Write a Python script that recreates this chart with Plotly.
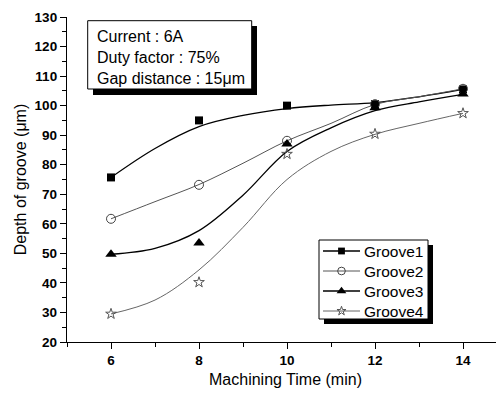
import plotly.graph_objects as go

# measured points
time_min = [6, 8, 10, 12, 14]
groove1 = [75.7, 95.0, 100.0, 100.5, 105.5]
groove2 = [61.7, 73.2, 88.1, 100.5, 105.7]
groove3 = [49.7, 53.5, 87.0, 99.3, 103.9]
groove4 = [29.5, 40.2, 83.6, 90.4, 97.4]

# fitted curves
curve_x = [6, 7, 8, 9, 10, 11, 12, 13, 14]
fit1 = [75.7, 85.5, 92.9, 96.7, 99.0, 100.2, 101.0, 103.0, 105.5]
fit2 = [61.7, 67.5, 73.3, 80.5, 88.1, 94.0, 100.4, 103.0, 105.7]
fit3 = [49.7, 51.7, 57.7, 69.7, 84.5, 92.5, 98.3, 101.3, 103.8]
fit4 = [29.5, 34.2, 44.4, 58.8, 75.0, 84.5, 90.3, 94.0, 97.4]

names = ["Groove1", "Groove2", "Groove3", "Groove4"]
info_lines = ["Current : 6A", "Duty factor : 75%", "Gap distance : 15\u03bcm"]

# page has an 8px body margin: design in page pixels, figure is shifted by 8
OFF = 8
W, H = 504 - OFF, 393 - OFF
PL, PR, PT, PB = 67, 504, 17, 342          # plot area in page pixels
ML, MR, MT, MB = PL - OFF, 0, PT - OFF, H - (PB - OFF)


def style(i, scale=1.0):
    base = [
        (dict(color="black", width=1.3),
         dict(symbol="square", size=8, color="black", line=dict(color="black", width=0))),
        (dict(color="#555555", width=1),
         dict(symbol="circle-open", size=9, color="#444444", line=dict(width=1))),
        (dict(color="black", width=1.3),
         dict(symbol="triangle-up", size=10, color="black", line=dict(color="black", width=0))),
        (dict(color="#666666", width=1),
         dict(symbol="star-open", size=8, color="#555555", line=dict(width=1))),
    ][i]
    line, marker = base
    marker = dict(marker)
    marker["size"] = marker["size"] * scale
    return line, marker


fig = go.Figure()
fits = [fit1, fit2, fit3, fit4]
pts = [groove1, groove2, groove3, groove4]

for i in range(4):
    ln, _ = style(i)
    fig.add_trace(go.Scatter(x=curve_x, y=fits[i], mode="lines",
                             line=dict(shape="spline", smoothing=1.0, **ln),
                             showlegend=False, hoverinfo="skip"))
for i in range(4):
    _, mk = style(i)
    fig.add_trace(go.Scatter(x=time_min, y=pts[i], mode="markers", name=names[i],
                             marker=mk, showlegend=False))

# ---- custom legend (pixel overlay axes) ----
LEG_L, LEG_T, LEG_R, LEG_B = 319, 240, 428, 319
ROW0, ROWH = 251, 20
SAMP_L, SAMP_R, TEXT_X = 323, 360, 362

shapes = [
    # info box shadow + box
    dict(type="rect", xref="x2", yref="y2", x0=93, x1=257, y0=26, y1=95,
         fillcolor="black", line=dict(width=0), layer="below"),
    dict(type="rect", xref="x2", yref="y2", x0=87.7, x1=251.7, y0=20.7, y1=89,
         fillcolor="white", line=dict(color="black", width=1), layer="below"),
    # legend shadow + box
    dict(type="rect", xref="x2", yref="y2", x0=LEG_L + 5, x1=LEG_R + 5, y0=LEG_T + 5, y1=LEG_B + 5,
         fillcolor="black", line=dict(width=0), layer="below"),
    dict(type="rect", xref="x2", yref="y2", x0=LEG_L, x1=LEG_R, y0=LEG_T, y1=LEG_B,
         fillcolor="white", line=dict(color="black", width=1), layer="below"),
]
annotations = [dict(text="<br>".join(info_lines), xref="x2", yref="y2",
                    x=94.5, y=57.5, xanchor="left", yanchor="middle", align="left",
                    showarrow=False, font=dict(size=16, color="black"))]

for i in range(4):
    yy = ROW0 + i * ROWH
    ln, mk = style(i, 0.85)
    fig.add_trace(go.Scatter(x=[SAMP_L, SAMP_R], y=[yy, yy], mode="lines", xaxis="x2", yaxis="y2",
                             line=ln, showlegend=False, hoverinfo="skip"))
    fig.add_trace(go.Scatter(x=[(SAMP_L + SAMP_R) / 2], y=[yy], mode="markers", xaxis="x2", yaxis="y2",
                             marker=mk, showlegend=False, hoverinfo="skip"))
    annotations.append(dict(text=names[i], xref="x2", yref="y2", x=TEXT_X, y=yy,
                            xanchor="left", yanchor="middle", showarrow=False,
                            font=dict(size=15.5, color="black")))

fig.update_layout(
    width=W, height=H,
    margin=dict(l=ML, r=MR, t=MT, b=MB, autoexpand=False),
    paper_bgcolor="white", plot_bgcolor="white",
    font=dict(family="Arial, Liberation Sans, sans-serif", color="black"),
    shapes=shapes, annotations=annotations, showlegend=False,
    xaxis=dict(range=[5, 5 + (PR - PL) / 44.0], showgrid=False, zeroline=False,
               showline=True, linecolor="black", linewidth=1.3,
               ticks="outside", ticklen=6, tickwidth=1.2, tickcolor="black",
               tick0=0, dtick=2,
               minor=dict(ticks="outside", ticklen=4, dtick=1, tickcolor="black", tickwidth=1),
               tickfont=dict(size=13.5, weight="bold", color="black"),
               title=dict(text="Machining Time (min)", font=dict(size=16), standoff=6)),
    yaxis=dict(range=[20, 130], showgrid=False, zeroline=False,
               showline=True, linecolor="black", linewidth=1.3,
               ticks="outside", ticklen=6, tickwidth=1.2, tickcolor="black",
               tick0=0, dtick=10,
               minor=dict(ticks="outside", ticklen=4, dtick=5, tickcolor="black", tickwidth=1),
               tickfont=dict(size=13.5, weight="bold", color="black"),
               title=dict(text="Depth of groove (\u03bcm)", font=dict(size=16), standoff=4)),
    xaxis2=dict(range=[PL, PR], overlaying="x", anchor="y2", visible=False, fixedrange=True),
    yaxis2=dict(range=[PB, PT], overlaying="y", anchor="x2", visible=False, fixedrange=True),
)

fig.write_html("out.html")
